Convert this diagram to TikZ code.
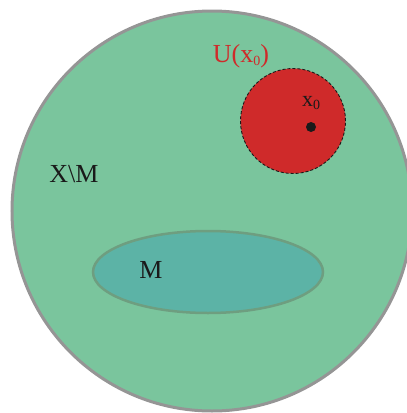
\documentclass[tikz,border=0pt]{standalone}
\usepackage{fontspec}
\setmainfont{Liberation Serif}
\usetikzlibrary{shapes.geometric}
\definecolor{spacegreen}{HTML}{7AC59D}
\definecolor{spaceedge}{HTML}{959595}
\definecolor{setteal}{HTML}{5CB3A6}
\definecolor{setedge}{HTML}{6E9E80}
\definecolor{nbred}{HTML}{CF2A2A}
\definecolor{inkdark}{HTML}{1A1A1A}
\newcommand{\subz}{\raisebox{-0.12em}{\fontsize{14}{14}\selectfont 0}}
\tikzset{
  lbl/.style={text=inkdark, inner sep=0pt, font=\fontsize{26}{26}\selectfont},
  space/.style={circle, fill=spacegreen, draw=spaceedge, line width=3pt, minimum size=400pt, inner sep=0pt},
  subset/.style={ellipse, fill=setteal, draw=setedge, line width=2.5pt, minimum width=230pt, minimum height=82pt, inner sep=0pt},
  nbhd/.style={circle, fill=nbred, draw=inkdark, dash pattern=on 3pt off 2pt, line width=0.9pt, minimum size=105pt, inner sep=0pt},
  pt/.style={circle, fill=inkdark, minimum size=10pt, inner sep=0pt}
}
\begin{document}
\begin{tikzpicture}[x=1pt,y=-1pt]
\useasboundingbox (0,0) rectangle (407,413);
\clip (0,0) rectangle (407,413);
\node[space] (X) at (212,211) {};
\node[subset] (M) at (208,272) {};
\node[nbhd] (U) at (293,121) {};
\node[pt] (x0) at (311,127) {};
\node[lbl] (Mlab) at (151,270) {M};
\node[lbl] (XMlab) at (74,174) {X\textbackslash M};
\node[lbl, font=\fontsize{22}{22}\selectfont] (x0lab) at (311,103) {x\subz};
\node[lbl, text=nbred, font=\fontsize{26}{26}\selectfont] (Ulab) at (241,56) {U(x\subz)};
\end{tikzpicture}
\end{document}
